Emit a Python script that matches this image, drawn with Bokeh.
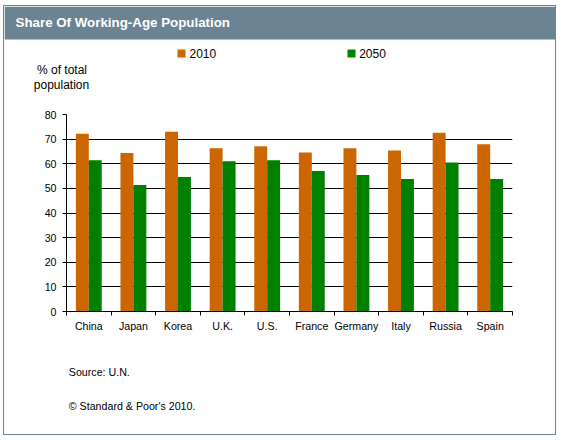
from bokeh.plotting import figure
from bokeh.layouts import column
from bokeh.models import ColumnDataSource, Range1d, FixedTicker, LinearAxis, Grid
from bokeh.core.properties import value
from bokeh.transform import dodge
from bokeh.embed import file_html
from bokeh.resources import INLINE

# ---- data ----
countries = ["China", "Japan", "Korea", "U.K.", "U.S.", "France", "Germany", "Italy", "Russia", "Spain"]
share_2010 = [72.2, 64.4, 73.0, 66.3, 67.1, 64.6, 66.3, 65.4, 72.6, 67.9]
share_2050 = [61.4, 51.4, 54.6, 61.0, 61.4, 57.1, 55.4, 53.8, 60.5, 53.8]
series_labels = ["2010", "2050"]
y_ticks = [0, 10, 20, 30, 40, 50, 60, 70, 80]
title_text = "Share Of Working-Age Population"
y_title = ["% of total", "population"]
source_note = "Source: U.N."
copyright_note = "\u00a9 Standard & Poor's 2010."

# ---- styles ----
C2010 = "#CC6600"
C2050 = "#008000"
HEAD = "#6A8493"
FONT = "Liberation Sans"
W = 551
H1, H2, H3 = 98, 241, 89


def blank(h):
    f = figure(width=W, height=h, x_range=Range1d(0, W), y_range=Range1d(h, 0),
               output_backend="svg", toolbar_location=None, title=None,
               x_axis_type=None, y_axis_type=None,
               min_border_left=0, min_border_right=0, min_border_top=0, min_border_bottom=0)
    f.frame_align = False
    f.outline_line_color = None
    f.background_fill_color = "white"
    f.border_fill_color = "white"
    return f


# ---- top: header, legend, axis title ----
top = blank(H1)
top.quad(left=[0], right=[W], top=[0], bottom=[33], fill_color=HEAD, line_color=None)
top.text(x=[11], y=[15.5], text=[title_text], text_font=value(FONT), text_font_size="10pt",
         text_font_style="bold", text_color="white", text_baseline="alphabetic", text_align="left")

leg_src = ColumnDataSource(dict(
    sx=[177, 347], sy=[47, 47], tx=[185, 354.7], ty=[47, 47],
    label=series_labels, color=[C2010, C2050]))
top.rect(x="sx", y="sy", width=8, height=8, fill_color="color", line_color=None, source=leg_src)
top.text(x="tx", y="ty", text="label", text_font=value(FONT), text_font_size="9pt",
         text_color="black", text_baseline="alphabetic", text_align="left", source=leg_src)

top.text(x=[57.5, 57], y=[63.5, 78], text=y_title, text_font=value(FONT), text_font_size="9pt",
         text_color="black", text_baseline="alphabetic", text_align="center")

# ---- middle: the bar chart ----
src = ColumnDataSource(dict(
    x=[i + 0.5 for i in range(len(countries))],
    country=countries,
    y2010=share_2010,
    y2050=share_2050,
))

p = figure(width=W, height=H2, x_range=Range1d(0, len(countries)), y_range=Range1d(0, 80),
           output_backend="svg", toolbar_location=None, title=None,
           x_axis_type=None, y_axis_type=None,
           min_border_left=62, min_border_right=43, min_border_top=10, min_border_bottom=34)
p.frame_align = False
p.outline_line_color = None
p.background_fill_color = "white"
p.border_fill_color = "white"

bw = 0.29
p.vbar(x=dodge("x", -bw / 2), top="y2010", width=bw, source=src,
       fill_color=C2010, line_color=None)
p.vbar(x=dodge("x", bw / 2), top="y2050", width=bw, source=src,
       fill_color=C2050, line_color=None)

yt = FixedTicker(ticks=y_ticks)
yax = LinearAxis(ticker=yt)
yax.axis_line_color = "black"
yax.major_tick_line_color = "black"
yax.major_tick_out = 4
yax.major_tick_in = 0
yax.minor_tick_line_color = None
yax.major_label_text_font = FONT
yax.major_label_text_font_size = "8pt"
yax.major_label_text_color = "black"
yax.major_label_standoff = 6
p.add_layout(yax, "left")

centres = [i + 0.5 for i in range(len(countries))]
bounds = list(range(len(countries) + 1))
xt = FixedTicker(ticks=centres, minor_ticks=bounds)
xax = LinearAxis(ticker=xt)
xax.major_label_overrides = {c: n for c, n in zip(centres, countries)}
xax.axis_line_color = "black"
xax.major_tick_line_color = None
xax.major_tick_out = 0
xax.major_tick_in = 0
xax.minor_tick_line_color = "black"
xax.minor_tick_out = 4
xax.minor_tick_in = 0
xax.major_label_text_font = FONT
xax.major_label_text_font_size = "8pt"
xax.major_label_text_color = "black"
xax.major_label_standoff = 4
p.add_layout(xax, "below")

p.add_layout(Grid(dimension=1, ticker=yt, grid_line_color="black", grid_line_width=1))

# ---- bottom: notes ----
bot = blank(H3)
bot.text(x=[64.3, 64.3], y=[26.5, 60.5], text=[source_note, copyright_note], text_font=value(FONT),
         text_font_size="8pt", text_color="black", text_baseline="alphabetic", text_align="left")

layout = column(top, p, bot, spacing=0,
                styles={"border": "1px solid " + HEAD, "margin-left": "3px", "margin-top": "5px"})

open("out.html", "w").write(file_html(layout, INLINE))
